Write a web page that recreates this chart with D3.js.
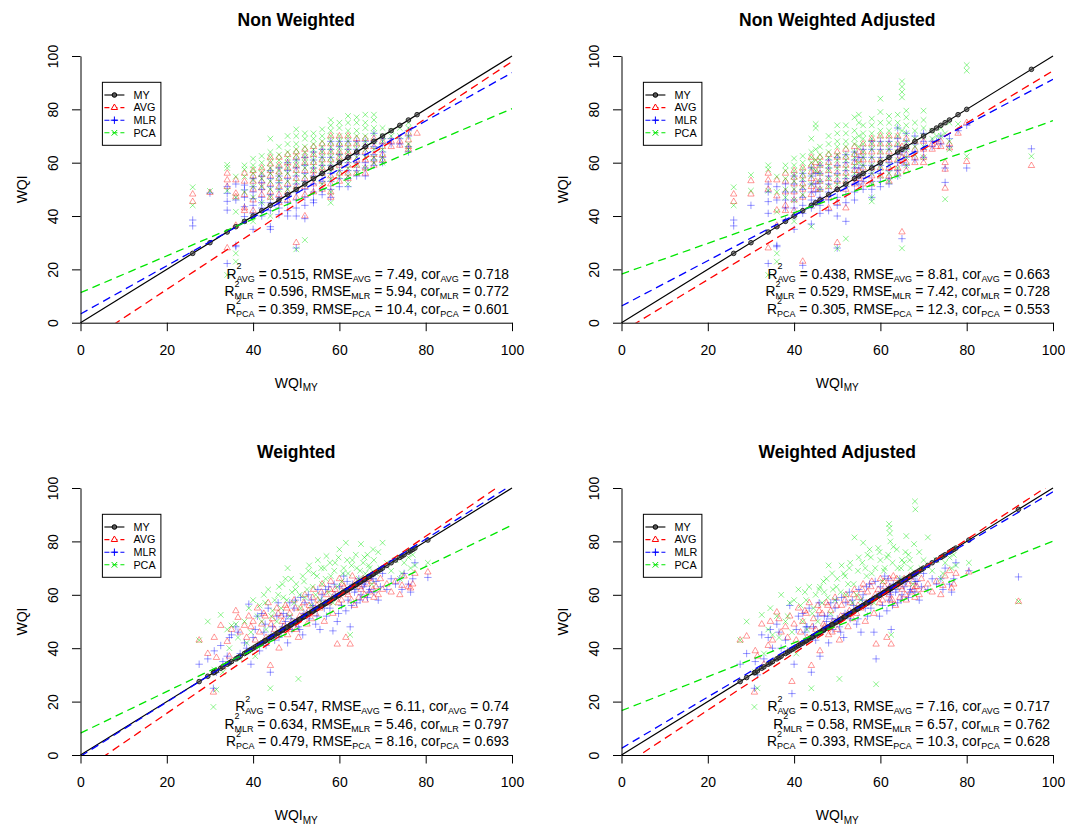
<!DOCTYPE html>
<html>
<head>
<meta charset="utf-8">
<script src="https://cdn.jsdelivr.net/npm/d3@7"></script>
<style>
  body { margin: 0; background: #ffffff; }
  svg { display: block; }
  text { white-space: pre; }
</style>
</head>
<body>
<script>
// ---------- data ----------
const panelTitles = ["Non Weighted", "Non Weighted Adjusted", "Weighted", "Weighted Adjusted"];
const seriesNames = ["MY", "AVG", "MLR", "PCA"];
const xTicks = [0, 20, 40, 60, 80, 100];
const yTicks = [0, 20, 40, 60, 80, 100];

// Non weighted: WQI_MY takes discrete values; each column lists the predicted WQI of the sites sharing it
const nwX = [26, 30, 34, 36, 38, 40, 42, 44, 46, 48, 50, 52, 54, 56, 58, 60, 62, 64, 66, 68, 70, 72, 74, 76, 78];
const nwAVG = [
  [48.2, 45.4], [48.8], [56, 53.5, 51, 28], [53.5, 48.5, 47.2, 36.5], [56, 53, 48, 43, 42],
  [57, 55, 53, 50, 46, 42], [58, 55.5, 53, 50.5, 48], [62, 59.5, 57, 55, 52, 49, 47],
  [62, 59, 56.5, 54, 51, 48, 45], [63, 60, 58, 55, 52, 49, 46], [64, 62, 59, 57, 54, 51, 47, 30],
  [65, 62.5, 60, 57, 54, 51, 48, 40], [66, 63, 60, 57, 55, 52, 49], [67, 64, 61, 58, 56, 53, 50],
  [70, 67, 64, 61, 58, 55, 52, 49, 47], [70, 67, 64, 62, 59, 56, 53], [70, 67, 64, 62, 59, 56, 54],
  [69, 67, 64, 61, 59, 56], [69, 66, 64, 61, 58, 56], [69, 66, 63, 61, 59], [68, 66, 63, 61],
  [68, 66], [68, 66.5], [71, 68.5, 66, 65], [71]
];
const nwMLR = [
  [38.5, 36.3], [48.6], [51, 48.5, 45.5, 42.2, 22.2], [52, 46, 29, 28.5], [51.6, 49.8, 47, 43.5, 39.8],
  [54, 51, 49, 46.5, 44, 41, 35], [55, 52.5, 50, 47, 45, 43, 40], [57, 54, 51, 48, 45, 42, 36, 35],
  [58, 55, 52.5, 50, 47, 45, 43, 40.5], [60, 57, 54, 51, 48, 45, 42, 40], [61, 58, 55, 52, 49, 46, 43, 40, 28],
  [62, 59, 56, 53, 50, 47, 44, 39], [64, 61, 58, 55, 52, 49, 46, 45], [65, 62, 59, 56, 53, 50, 48],
  [68, 65, 62, 59, 56, 53, 50, 47], [68, 66, 63, 60, 57, 54, 51], [68, 65, 62, 60, 57, 54, 51],
  [68, 65, 63, 60, 57, 55], [68, 66, 63, 60, 58, 55], [71, 68, 66, 63, 61, 59], [69, 67, 64, 62, 60],
  [69, 67], [69, 67], [72, 70, 66, 64], []
];
const nwPCA = [
  [50.8, 44], [49.4], [59.2, 58, 49.5, 17.9], [54.8, 47, 41.6, 26, 22.9], [59, 57.5, 54.8, 49, 38],
  [61.5, 59, 57.5, 56, 53.5, 51, 47, 38], [62.5, 60, 58, 56, 54, 51, 45], [69, 64, 62, 60, 58, 56, 53, 50, 47, 40],
  [66, 63, 61, 59, 57, 55, 53, 50], [70, 67, 64, 62, 60, 58, 56, 53, 50], [72.5, 70, 67, 65, 63, 61, 59, 56, 53, 50, 27.5],
  [71, 69, 66, 64, 62, 60, 58, 55, 52, 31], [71, 69, 67, 65, 63, 61, 59, 57, 54], [72.5, 70, 68, 66, 64, 62, 60, 58, 56, 52],
  [76, 74, 72, 70, 68, 66, 64, 62, 60, 57, 54, 49, 45], [75, 73, 70, 68, 66, 64, 62, 60, 57, 55],
  [77.5, 75, 72, 70, 68, 66, 64, 61, 58, 55, 52], [77, 75, 72, 70, 67, 65, 62, 59, 56], [78, 75, 73, 70, 68, 65, 62, 58],
  [78, 76, 73, 71, 68, 65, 62, 60], [73, 70, 68, 65, 62, 60], [72, 70], [73, 70], [75, 73, 70, 67, 65], []
];

// Non weighted adjusted
const nwaX = [26, 30, 34, 36, 38, 40, 42, 44, 45, 46, 48, 50, 52, 54, 55, 56, 58, 60, 62, 64, 65, 66, 68, 70, 72, 73, 74, 75, 76, 78, 80, 95];
const nwaAVG = [
  [48.2, 45.4], [53.2, 48.2], [56, 53.5, 50, 28], [53.5, 47.5, 42.2, 36.5], [56, 53, 49, 44, 42],
  [57, 54.5, 52, 49, 46, 42], [58, 55, 52, 50, 47, 23], [62, 59, 56.5, 54, 51, 48], [60, 57, 53, 50],
  [62, 59, 56, 53, 50, 46], [63, 60, 57, 54, 51, 47, 43], [64, 62, 59, 56, 53, 50, 45, 30],
  [65, 62, 59, 56, 53, 50, 43], [66, 63, 60, 57, 54, 52], [64, 61, 57, 54], [67, 64, 61, 58, 55, 52],
  [69, 67, 64, 61, 58, 55, 52], [70, 67, 64, 61, 58, 55], [70, 67, 64, 61, 58, 55, 53], [70, 67, 64, 61, 58, 56],
  [66, 62, 34], [69, 66, 63, 60, 57], [68, 65, 62, 60], [68, 65, 62, 60], [67, 65], [66], [68, 66],
  [60, 57.5, 50.4], [67, 65.5], [71], [75, 60.4], [58.9]
];
const nwaMLR = [
  [38.5, 36.3], [44], [52, 49, 45.4, 41, 22.2], [51, 46, 29, 28.5], [52, 49, 46, 43, 38.5],
  [55, 52, 49, 46, 43, 40, 35], [56, 53, 50, 47, 44, 41, 21.5], [58, 55, 52, 49, 46, 43, 37], [56, 52, 49, 45],
  [59, 56, 53, 50, 47, 44, 41], [61, 58, 55, 52, 49, 46, 42], [62, 59, 56, 53, 50, 47, 44, 40, 28],
  [63, 60, 57, 54, 51, 48, 45, 38], [64, 61, 58, 55, 52, 49, 46], [62, 58, 55, 52], [65, 62, 59, 56, 53, 50],
  [68, 65, 62, 59, 56, 53, 50, 47], [68, 65, 62, 59, 56, 53, 51], [68, 65, 62, 60, 57, 54, 52],
  [73, 69, 66, 63, 60, 57, 55], [64, 60, 31.5], [71, 68, 65, 62, 59], [70, 67, 64, 61], [71, 68, 65, 62],
  [68, 66], [68], [70, 67], [58, 52.6], [69, 66], [72], [74, 58], [65.2]
];
const nwaPCA = [
  [50.8, 44], [55.4, 49.5], [59, 57.5, 49.5, 17.9], [54.8, 49, 41.6, 26, 22.9], [59, 57, 54, 50, 47],
  [61.6, 59, 57, 55, 53, 50, 46, 38], [62.5, 60, 58, 56, 54, 51, 48], [69, 64, 62, 60, 58, 55, 52, 36],
  [74.5, 73, 65, 61, 57], [66, 63, 61, 59, 56, 53, 50], [70, 67, 64, 62, 59, 57, 54, 51],
  [74, 71, 68, 66, 63, 61, 58, 55, 52, 27.8], [74, 71, 68, 66, 63, 61, 58, 55, 52, 31.5],
  [77, 72, 69, 67, 64, 62, 59, 56], [78, 75, 70, 66, 60], [74, 71, 69, 67, 64, 62, 59, 56],
  [76.5, 74, 71, 69, 67, 65, 62, 59, 56, 52, 47, 45.5], [84, 79, 75, 72, 70, 67, 64, 61, 58, 55],
  [77.5, 75, 72, 70, 67, 65, 62, 59, 56, 53], [78, 75, 73, 70, 67, 64, 61, 58, 55],
  [90.5, 88.5, 86.5, 84.5, 72, 27.9], [79.5, 77, 74, 71, 68, 65, 62, 59], [75, 72, 69, 66, 63],
  [79.5, 76, 73, 70, 66, 62], [72, 69], [70], [73, 70], [71, 46.3], [75, 68, 65], [74.5],
  [96.6, 94.5, 62.4], [62.4]
];

// Weighted: one entry per site
const wMY = [27.5, 29.5, 30.8, 31, 31.5, 32.5, 33, 34, 34.5, 35, 36, 36.5, 37, 38, 38.5, 39, 39.5, 40, 40.5, 41,
  41.5, 42, 42.5, 43, 43.5, 44, 44.5, 45, 45.5, 46, 46.5, 47, 47.5, 48, 48.5, 49, 49.5, 50, 50.5, 51,
  51.5, 52, 52.5, 53, 53.5, 54, 54.5, 55, 55.5, 56, 56.5, 57, 57.5, 58, 58.5, 59, 59.5, 60, 60.5, 61,
  61.5, 62, 62.5, 63, 63.5, 64, 64.5, 65, 65.5, 66, 66.5, 67, 67.5, 68, 68.5, 69, 69.5, 70, 71, 72,
  73, 74, 74.5, 75, 76, 76.5, 77, 77.5, 80.5,
  42.8, 44.2, 45.8, 46.8, 47.8, 48.8, 49.8, 50.8, 51.8, 52.8, 53.8, 54.8, 55.8, 56.8, 57.8, 58.8, 59.8,
  60.8, 61.8, 62.8, 63.8, 64.8, 65.8, 66.8, 67.8];
const wAVG = [43, 38, 23.5, 44, 36.5, 48.5, 33, 42.5, 37, 47, 54, 51.5, 46, 48.5, 44, 52, 48, 50, 43, 55,
  46, 49, 53, 44, 57, 33.5, 51, 47, 55, 40, 52, 48, 56, 45, 53, 50, 58, 47, 44, 55,
  52, 60, 49, 56, 51, 62, 53, 58, 55, 64, 50, 60, 57, 65, 53, 62, 41.5, 66, 58, 63,
  44, 60, 41.5, 67, 56, 64, 59, 62, 66, 58, 64, 61, 65, 59, 63, 60, 66, 62, 64, 61,
  65, 60, 63.5, 67, 63, 62.5, 64, 68, 68.5,
  52, 49, 53, 50, 55, 47, 55, 52, 57, 54, 59, 56, 61, 57, 62, 60, 57, 64, 61, 58, 65, 63, 60, 66, 62];
const wMLR = [34, 36, 25, 39, 31, 41, 35, 37, 44, 45, 48, 46, 38, 42, 40, 56.5, 34, 44, 47, 52,
  39, 53, 46, 41, 55, 31, 48, 43, 52, 44, 46, 53, 50, 42, 57, 47, 55, 50, 48, 59,
  45, 57, 53, 51, 58, 55, 49, 62, 47, 60, 55, 52, 63, 58, 46.5, 60, 50, 63, 56, 67,
  54, 58, 48, 64, 61, 57, 66, 60, 63, 65, 59, 62, 67, 61, 65, 58, 63, 68, 62, 66,
  64, 66, 62, 68, 64, 61, 66, 72, 66.5,
  49, 45, 57, 48, 52, 51, 58, 47, 53, 60, 56, 52, 58, 62, 55, 64, 53, 61, 65, 56, 62, 58, 64, 61, 66];
const wPCA = [43, 50, 18, 32, 24.5, 52.5, 31, 47, 40, 48.5, 49, 44, 36, 50, 42, 55, 46, 58, 37, 52,
  56, 50, 60, 47, 62, 25, 54, 58, 50, 63, 55, 59, 66, 70, 52, 61, 57, 64, 28.5, 55,
  67, 59, 62, 71, 56, 68, 60, 73, 58, 64, 70, 74.5, 61, 67, 57, 72, 63, 77, 65, 70,
  79.5, 68, 45, 73, 63, 70, 66, 79, 72, 68, 75, 70, 64, 73, 68, 76, 70, 79.5, 72, 69,
  73, 66, 68, 72, 74, 70, 75, 71, 72,
  57, 52, 60, 64, 58, 66, 62, 60, 65, 69, 63, 67, 70, 66, 72, 69, 74, 68, 73, 71, 75, 69, 74, 71, 77];

// Weighted adjusted: one entry per site
const waMY = [27.5, 29, 30.8, 31, 31.5, 32.5, 33, 34, 34.5, 35, 36, 36.5, 37, 38, 38.5, 39, 39.5, 40, 40.5, 41,
  41.5, 42, 42.5, 43, 43.5, 44, 44.5, 45, 45.5, 46, 46.5, 47, 47.5, 48, 48.5, 49, 49.5, 50, 50.5, 51,
  51.5, 52, 52.5, 53, 53.5, 54, 54.5, 55, 55.5, 56, 56.5, 57, 57.5, 58, 58.5, 59, 59.5, 60, 60.5, 61,
  61.5, 62, 62.1, 62.2, 62.3, 62.5, 63, 63.5, 64, 64.5, 65, 65.5, 66, 66.5, 67, 67.5, 68, 68.1, 68.5, 69,
  69.5, 70, 71, 72, 73, 74, 74.5, 75, 76, 76.5, 77, 77.5, 80.5, 92,
  42.8, 44.2, 45.8, 46.8, 47.8, 48.8, 49.8, 50.8, 51.8, 52.8, 53.8, 54.8, 55.8, 56.8, 57.8, 58.8, 59.8,
  60.8, 61.8, 62.8, 63.8, 64.8, 65.8, 66.8, 67.8];
const waAVG = [43, 44.5, 23.5, 39, 37, 49, 34, 41, 50, 43, 53.5, 51, 46, 48, 44, 52, 27.5, 49, 43, 55,
  46, 50, 54, 44, 57, 33.5, 51, 47, 56, 39, 53, 48, 57, 45, 54, 50, 59, 47, 43, 56,
  52, 60, 48, 57, 51, 62, 53, 59, 55, 64, 50, 61, 57, 65, 53, 41.5, 62, 66, 58, 63,
  44, 60, 66, 63, 58, 41.5, 67, 56, 64, 59, 62, 66, 58, 64, 61, 65, 59, 63, 63, 60,
  66, 62, 64, 61, 65, 60, 63.5, 67, 69, 62.5, 64, 68, 68.5, 57.5,
  53, 48, 54, 49, 56, 46, 56, 52, 58, 54, 60, 56, 62, 57, 63, 60, 57, 65, 61, 58, 66, 63, 60, 67, 62];
const waMLR = [34, 38, 25, 35, 30, 45, 36, 44, 47, 40, 49, 46, 40, 43, 39, 56, 23, 34, 47, 52,
  41, 53, 46, 48, 55, 31, 48, 43, 52, 37, 46, 52, 50, 42, 57, 47, 55, 51, 48, 59,
  44, 57, 53, 51, 58, 54, 49, 62, 46, 60, 55, 52, 64, 58, 46, 36, 60, 63, 56, 67,
  54, 58, 63, 61, 60, 47, 64, 61, 57, 66, 60, 63, 65, 59, 62, 67, 61, 65, 65, 58,
  63, 68, 62, 66, 64, 66, 62, 70, 64, 61, 66, 72, 69, 66.7,
  48, 44, 57, 47, 52, 51, 58, 46, 53, 61, 56, 51, 58, 63, 55, 65, 52, 61, 66, 56, 62, 58, 65, 61, 67];
const waPCA = [43, 50, 18, 31, 25, 52.5, 38, 47, 55, 45, 52, 44, 60, 50, 52, 57, 46, 58, 38, 62,
  56, 50, 61, 47, 63, 25, 55, 60, 50, 63, 57, 61, 66, 71, 53, 62, 58, 66, 28.5, 71,
  68, 60, 64, 72, 57, 81.5, 60, 74, 58, 79.5, 70, 75, 77, 68, 57, 26.5, 77.5, 73, 65, 70,
  74, 86.5, 85, 83, 80, 45, 78, 63, 70, 66, 73, 72, 82, 75, 70, 64, 95, 92, 68, 76,
  70, 73, 81.5, 69, 73, 66, 68, 72, 74, 70, 75, 71, 72, 57.5,
  58, 53, 62, 65, 59, 68, 63, 61, 67, 70, 64, 69, 72, 67, 74, 70, 76, 69, 75, 72, 77, 70, 76, 73, 79];

// fitted lines [intercept, slope], one per panel
const fitAVG = [[-8.9, 1.068], [-3.43, 0.979], [-6.5, 1.105], [-4.5, 1.065]];
const fitMLR = [[3.25, 0.905], [6.25, 0.85], [-0.5, 1.017], [2.5, 0.961]];
const fitPCA = [[11.25, 0.69], [18.25, 0.575], [8.2, 0.779], [16.6, 0.635]];

// goodness-of-fit text: [method, R², RMSE, cor]
const statsNW = [["AVG", "0.515", "7.49", "0.718"], ["MLR", "0.596", "5.94", "0.772"], ["PCA", "0.359", "10.4", "0.601"]];
const statsNWA = [["AVG", "0.438", "8.81", "0.663"], ["MLR", "0.529", "7.42", "0.728"], ["PCA", "0.305", "12.3", "0.553"]];
const statsW = [["AVG", "0.547", "6.11", "0.74"], ["MLR", "0.634", "5.46", "0.797"], ["PCA", "0.479", "8.16", "0.693"]];
const statsWA = [["AVG", "0.513", "7.16", "0.717"], ["MLR", "0.58", "6.57", "0.762"], ["PCA", "0.393", "10.3", "0.628"]];

// ---------- helpers ----------
function columnsToPoints(xs, cols) {
  const out = [];
  xs.forEach((xv, i) => cols[i].forEach(v => out.push([xv, v])));
  return out;
}
function pairsToPoints(xs, ys) { return xs.map((xv, i) => [xv, ys[i]]); }

// ---------- styles ----------
const FONT = "'Liberation Sans', Arial, Helvetica, sans-serif";
const FS = 14;         // axis labels
const FA = 13.8;       // annotation
const FSUB = 9;        // sub- and superscripts
const colors = { MY: "#000000", AVG: "#ff0000", MLR: "#0000ff", PCA: "#00e600" };
const symbolPath = {
  AVG: "M0,-3.6L3.2,1.9L-3.2,1.9Z",
  MLR: "M-3.7,0H3.7M0,-3.7V3.7",
  PCA: "M-2.8,-2.8L2.8,2.8M-2.8,2.8L2.8,-2.8"
};
const pointOpacity = { AVG: 0.4, MLR: 0.4, PCA: 0.44 };

const frames = [
  { left: 80.5, right: 512, top: 56, bottom: 322.7 },
  { left: 621.5, right: 1053, top: 56, bottom: 322.7 },
  { left: 80.5, right: 512, top: 488, bottom: 755 },
  { left: 621.5, right: 1053, top: 488, bottom: 755 }
];

const panels = [
  { my: nwX, AVG: columnsToPoints(nwX, nwAVG), MLR: columnsToPoints(nwX, nwMLR), PCA: columnsToPoints(nwX, nwPCA), stats: statsNW },
  { my: nwaX, AVG: columnsToPoints(nwaX, nwaAVG), MLR: columnsToPoints(nwaX, nwaMLR), PCA: columnsToPoints(nwaX, nwaPCA), stats: statsNWA },
  { my: wMY, AVG: pairsToPoints(wMY, wAVG), MLR: pairsToPoints(wMY, wMLR), PCA: pairsToPoints(wMY, wPCA), stats: statsW },
  { my: waMY, AVG: pairsToPoints(waMY, waAVG), MLR: pairsToPoints(waMY, waMLR), PCA: pairsToPoints(waMY, waPCA), stats: statsWA }
];
const fits = { AVG: fitAVG, MLR: fitMLR, PCA: fitPCA };

const svg = d3.select("body").append("svg")
  .attr("width", 1065).attr("height", 827)
  .attr("font-family", FONT);

svg.append("rect").attr("width", 1065).attr("height", 827).attr("fill", "#ffffff");

function statLine(g, xr, yb, s) {
  const t = g.append("text").attr("x", xr).attr("y", yb)
    .attr("text-anchor", "end").attr("font-size", FA).attr("fill", "#000");
  const up = 9.5, down = 3.2;
  t.append("tspan").text("R");
  t.append("tspan").attr("font-size", FSUB).attr("dy", -up).text("2");
  t.append("tspan").attr("font-size", FSUB).attr("dx", -FSUB * 0.556).attr("dy", up + down).text(s[0]);
  t.append("tspan").attr("dy", -down).text(` = ${s[1]}, RMSE`);
  t.append("tspan").attr("font-size", FSUB).attr("dy", down).text(s[0]);
  t.append("tspan").attr("dy", -down).text(` = ${s[2]}, cor`);
  t.append("tspan").attr("font-size", FSUB).attr("dy", down).text(s[0]);
  t.append("tspan").attr("dy", -down).text(` = ${s[3]}`);
}

function drawLegend(g, lx, ly) {
  g.append("rect").attr("x", lx).attr("y", ly).attr("width", 58.5).attr("height", 63)
    .attr("fill", "#fff").attr("stroke", "#000").attr("stroke-width", 1);
  seriesNames.forEach((name, i) => {
    const cy = ly + 12.7 + i * 12.6;
    const c = colors[name];
    g.append("line").attr("x1", lx + 2).attr("x2", lx + 22).attr("y1", cy).attr("y2", cy)
      .attr("stroke", c).attr("stroke-width", 1.1)
      .attr("stroke-dasharray", name === "MY" ? null : "5,3");
    if (name === "MY") {
      g.append("circle").attr("cx", lx + 12).attr("cy", cy).attr("r", 2.3)
        .attr("fill", "#555").attr("stroke", "#000").attr("stroke-width", 1);
    } else {
      g.append("path").attr("d", symbolPath[name]).attr("transform", `translate(${lx + 12},${cy})`)
        .attr("fill", "#fff").attr("stroke", c).attr("stroke-width", 1);
    }
    g.append("text").attr("x", lx + 31).attr("y", cy + 3.8).attr("font-size", 10.8)
      .attr("fill", "#000").text(name);
  });
}

panels.forEach((p, idx) => {
  const f = frames[idx];
  const g = svg.append("g");
  const x = d3.scaleLinear().domain([0, 100]).range([f.left, f.right]);
  const y = d3.scaleLinear().domain([0, 100]).range([f.bottom, f.top]);
  const clipId = "plotclip" + idx;
  svg.append("clipPath").attr("id", clipId).append("rect")
    .attr("x", f.left).attr("y", f.top).attr("width", f.right - f.left).attr("height", f.bottom - f.top);

  // scatter of predicted values
  ["AVG", "MLR", "PCA"].forEach(name => {
    g.append("g").selectAll("path").data(p[name]).join("path")
      .attr("d", symbolPath[name])
      .attr("transform", d => `translate(${x(d[0])},${y(d[1])})`)
      .attr("fill", "none").attr("stroke", colors[name])
      .attr("stroke-opacity", pointOpacity[name]).attr("stroke-width", 1);
  });

  // 1:1 line and WQI_MY points
  g.append("line").attr("x1", x(0)).attr("y1", y(0)).attr("x2", x(100)).attr("y2", y(100))
    .attr("stroke", "#000").attr("stroke-width", 1.2);
  g.append("g").selectAll("circle").data(p.my).join("circle")
    .attr("cx", d => x(d)).attr("cy", d => y(d)).attr("r", 2.3)
    .attr("fill", "rgba(70,70,70,0.6)").attr("stroke", "#1a1a1a").attr("stroke-width", 0.9);

  // fitted dashed lines
  ["AVG", "MLR", "PCA"].forEach(name => {
    const [a, b] = fits[name][idx];
    g.append("line").attr("clip-path", `url(#${clipId})`)
      .attr("x1", x(0)).attr("y1", y(a)).attr("x2", x(100)).attr("y2", y(a + 100 * b))
      .attr("stroke", colors[name]).attr("stroke-width", 1.3).attr("stroke-dasharray", "8,5");
  });

  // axes
  const ax = g.append("g").attr("transform", `translate(0,${f.bottom})`)
    .call(d3.axisBottom(x).tickValues(xTicks).tickSize(8.5).tickSizeOuter(0).tickFormat(d3.format("d")));
  ax.selectAll("text").attr("y", 32.3).attr("dy", 0).attr("font-size", FS).attr("font-family", FONT).attr("fill", "#000");
  const ay = g.append("g").attr("transform", `translate(${f.left},0)`)
    .call(d3.axisLeft(y).tickValues(yTicks).tickSize(8.5).tickSizeOuter(0).tickFormat(d3.format("d")));
  ay.selectAll("text").attr("x", 0).attr("dy", 0).attr("text-anchor", "middle")
    .attr("transform", "translate(-22.3,0) rotate(-90)")
    .attr("font-size", FS).attr("font-family", FONT).attr("fill", "#000");
  [ax, ay].forEach(a => {
    a.select(".domain").attr("stroke", "#000").attr("stroke-width", 1);
    a.selectAll(".tick line").attr("stroke", "#000").attr("stroke-width", 1);
  });

  const cx = (f.left + f.right) / 2, cy = (f.top + f.bottom) / 2;
  // title
  g.append("text").attr("x", cx).attr("y", f.top - 29.7).attr("text-anchor", "middle")
    .attr("font-size", 17.5).attr("font-weight", "bold").attr("fill", "#000").text(panelTitles[idx]);
  // axis titles
  const xt = g.append("text").attr("x", cx).attr("y", f.bottom + 65).attr("text-anchor", "middle")
    .attr("font-size", FS).attr("fill", "#000");
  xt.append("tspan").text("WQI");
  xt.append("tspan").attr("font-size", FSUB + 1).attr("dy", 3.5).text("MY");
  g.append("text").attr("transform", `translate(${f.left - 53.5},${cy}) rotate(-90)`)
    .attr("text-anchor", "middle").attr("font-size", FS).attr("fill", "#000").text("WQI");

  // legend
  drawLegend(g, f.left + 21.9, f.top + 26.3);

  // statistics
  const xr = x(100) - 3;
  [-44, -26.5, -9].forEach((off, i) => statLine(g, xr, f.bottom + off, p.stats[i]));
});
</script>
</body>
</html>
